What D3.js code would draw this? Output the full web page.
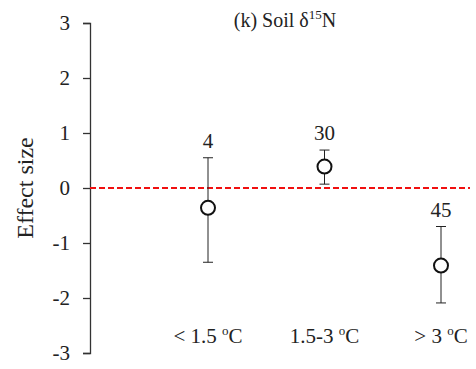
<!DOCTYPE html>
<html>
<head>
<meta charset="utf-8">
<script src="https://cdn.jsdelivr.net/npm/d3@7"></script>
<style>
  body { margin: 0; background: #fff; }
  svg text { font-family: "Liberation Serif", "Times New Roman", "DejaVu Serif", serif !important; fill: #222; }
</style>
</head>
<body>
<svg id="chart" width="476" height="369"></svg>
<script>
// Data
var categories = ['< 1.5', '1.5-3', '> 3'];
var means = [-0.36, 0.39, -1.41];
var upper = [0.55, 0.69, -0.70];
var lower = [-1.35, 0.07, -2.09];
var counts = ['4', '30', '45'];
var yTicks = [-3, -2, -1, 0, 1, 2, 3];

var config = {
  axisX: 90,
  top: 23,
  bottom: 353,
  firstX: 208,
  lastX: 441,
  lineEnd: 470,
  capHalf: 5,
  radius: 7,
};

var svg = d3.select('#chart');

var x = d3.scalePoint()
  .domain(categories)
  .range([config.firstX, config.lastX]);

var y = d3.scaleLinear()
  .domain([-3, 3])
  .range([config.bottom, config.top]);

// y axis, hyphen for minus like the original
var yAxis = svg.append('g')
  .attr('transform', 'translate(' + config.axisX + ',0)')
  .call(d3.axisLeft(y).tickValues(yTicks).tickSize(7).tickPadding(13)
    .tickFormat(function(d) { return String(d); }));
yAxis.select('.domain').attr('stroke', '#333').attr('stroke-width', 1.3);
yAxis.selectAll('.tick line').attr('stroke', '#333').attr('stroke-width', 1.3);
yAxis.selectAll('.tick text')
  .attr('font-size', 21)
  .attr('fill', '#222');

// y axis title
svg.append('text')
  .attr('transform', 'translate(33,' + y(0) + ') rotate(-90)')
  .attr('text-anchor', 'middle')
  .attr('font-size', 24)
  .text('Effect size');

// chart title
var title = svg.append('text')
  .attr('x', 285)
  .attr('y', 27)
  .attr('text-anchor', 'middle')
  .attr('font-size', 20);
title.append('tspan').text('(k) Soil δ');
title.append('tspan').attr('font-size', 13).attr('dy', -8).text('15');
title.append('tspan').attr('dy', 8).text('N');

// zero line
svg.append('line')
  .attr('x1', config.axisX)
  .attr('x2', config.lineEnd)
  .attr('y1', y(0))
  .attr('y2', y(0))
  .attr('stroke', '#f01010')
  .attr('stroke-width', 2)
  .attr('stroke-dasharray', '6,3');

// error bars, points and counts
categories.forEach(function(c, i) {
  var cx = x(c);
  svg.append('line')
    .attr('x1', cx).attr('x2', cx)
    .attr('y1', y(upper[i])).attr('y2', y(lower[i]))
    .attr('stroke', '#222').attr('stroke-width', 1);
  [upper[i], lower[i]].forEach(function(v) {
    svg.append('line')
      .attr('x1', cx - config.capHalf).attr('x2', cx + config.capHalf)
      .attr('y1', y(v)).attr('y2', y(v))
      .attr('stroke', '#222').attr('stroke-width', 1);
  });
  svg.append('circle')
    .attr('cx', cx)
    .attr('cy', y(means[i]))
    .attr('r', config.radius)
    .attr('fill', '#fff')
    .attr('stroke', '#111')
    .attr('stroke-width', 2);
  svg.append('text')
    .attr('x', cx)
    .attr('y', y(upper[i]) - 10)
    .attr('text-anchor', 'middle')
    .attr('font-size', 21)
    .text(counts[i]);

  // category label
  var lab = svg.append('text')
    .attr('x', cx)
    .attr('y', 343)
    .attr('text-anchor', 'middle')
    .attr('font-size', 21);
  lab.append('tspan').text(c + ' ');
  lab.append('tspan').attr('font-size', 13).attr('dy', -8).text('o');
  lab.append('tspan').attr('dy', 8).text('C');
});
</script>
</body>
</html>
